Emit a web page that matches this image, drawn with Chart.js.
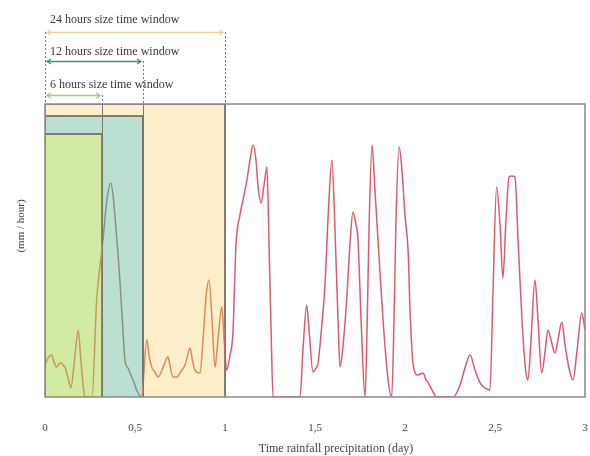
<!DOCTYPE html>
<html>
<head>
<meta charset="utf-8">
<script src="https://cdn.jsdelivr.net/npm/chart.js@4.4.1/dist/chart.umd.min.js"></script>
<style>
  html, body { margin: 0; padding: 0; background: #fff; overflow: hidden; }
</style>
</head>
<body>
<canvas id="rainChart" width="590" height="456"></canvas>
<script>
// ---------------- Data ----------------
const TIME_DAYS = [
  0, 0.017, 0.037, 0.05, 0.065, 0.078, 0.093, 0.103, 0.111, 0.128,
  0.144, 0.161, 0.185, 0.197, 0.213, 0.222, 0.239, 0.261, 0.287, 0.306,
  0.322, 0.344, 0.365, 0.378, 0.389, 0.406, 0.417, 0.433, 0.444, 0.461,
  0.472, 0.494, 0.509, 0.537, 0.565, 0.578, 0.593, 0.611, 0.628, 0.65,
  0.667, 0.683, 0.694, 0.711, 0.733, 0.75, 0.778, 0.806, 0.819, 0.833,
  0.861, 0.878, 0.894, 0.911, 0.928, 0.944, 0.961, 0.982, 0.994, 1.009,
  1.028, 1.044, 1.061, 1.083, 1.1, 1.122, 1.139, 1.156, 1.172, 1.183,
  1.2, 1.217, 1.233, 1.244, 1.256, 1.267, 1.333, 1.417, 1.433, 1.454,
  1.467, 1.489, 1.506, 1.517, 1.533, 1.556, 1.572, 1.594, 1.611, 1.628,
  1.639, 1.656, 1.676, 1.694, 1.711, 1.728, 1.739, 1.756, 1.778, 1.789,
  1.8, 1.817, 1.833, 1.85, 1.878, 1.906, 1.926, 1.939, 1.95, 1.967,
  1.983, 2.0, 2.017, 2.028, 2.044, 2.072, 2.1, 2.117, 2.128, 2.15,
  2.176, 2.222, 2.267, 2.306, 2.333, 2.361, 2.389, 2.417, 2.444, 2.472,
  2.489, 2.509, 2.528, 2.544, 2.561, 2.578, 2.594, 2.611, 2.628, 2.65,
  2.667, 2.683, 2.7, 2.722, 2.739, 2.759, 2.778, 2.794, 2.811, 2.833,
  2.85, 2.871, 2.889, 2.911, 2.933, 2.956, 2.982, 3.0
];

const RAIN_MM_H = [
  10.9, 13.3, 14.3, 11.9, 10.2, 11.3, 11.6, 10.6, 10.2, 6.5,
  3.1, 10.9, 22.9, 14.3, 3.4, 0, 0, 0, 33.1, 45.1,
  53.6, 67.2, 73.0, 68.9, 61.4, 48.5, 38.9, 22.9, 12.6, 9.9,
  8.2, 5.1, 2.4, 0, 19.5, 14.3, 10.2, 8.5, 6.8, 9.2,
  11.9, 13.7, 10.9, 6.8, 6.8, 8.2, 10.9, 16.7, 12.6, 9.2,
  8.2, 19.5, 33.8, 39.9, 26.3, 10.2, 19.5, 30.7, 21.2, 9.2,
  14.3, 21.8, 51.9, 62.1, 67.2, 74.1, 80.9, 86.0, 80.9, 72.4,
  66.2, 72.4, 78.5, 53.6, 22.9, 0, 0, 0, 16.0, 31.4,
  22.9, 8.5, 9.9, 11.6, 21.2, 38.9, 60.4, 80.9, 57.0, 26.3,
  10.2, 17.7, 33.1, 51.9, 63.1, 58.7, 53.6, 26.3, 0, 22.9,
  57.0, 86.0, 70.6, 53.6, 26.3, 5.8, 0, 26.3, 60.4, 85.3,
  77.5, 62.1, 50.2, 29.7, 11.6, 7.5, 8.2, 5.8, 5.1, 2.4,
  0, 0, 0, 4.1, 9.9, 14.3, 9.2, 4.8, 3.1, 2.4,
  36.5, 71.7, 58.7, 40.6, 60.4, 75.1, 75.4, 75.1, 53.6, 26.3,
  10.9, 5.8, 19.5, 39.9, 26.3, 8.2, 15.4, 22.9, 19.5, 15.0,
  19.5, 25.6, 17.7, 9.9, 5.8, 16.0, 28.7, 22.9
];

// time windows: 6 h, 12 h, 24 h (end as drawn in the figure, box height in y units)
const WINDOW_LABELS = ["6 hours size time window", "12 hours size time window", "24 hours size time window"];
const WINDOW_ENDS = [0.317, 0.544, 1.0];
const WINDOW_TOPS = [89.8, 95.9, 100];

const X_TICKS = [0, 0.5, 1, 1.5, 2, 2.5, 3];
const X_TICK_LABELS = ["0", "0,5", "1", "1,5", "2", "2,5", "3"];
const X_TITLE = "Time rainfall precipitation (day)";
const Y_TITLE = "(mm / hour)";

// ---------------- Styles ----------------
const SERIF = "'Liberation Serif', 'DejaVu Serif', serif";
const BOX_FILLS = ["#d3eaa3", "#bbe0d2", "#feeec9"];
const ARROW_COLORS = ["#9fd07a", "#3e8f7b", "#e6d98c"];
const ARROW_OFFSETS = [9, 43, 72];   // px above the plot top
const LABEL_OFFSETS = [19, 52, 84];

function lineColorAt(x) {
  if (x < WINDOW_ENDS[0]) return "#c39a5c";
  if (x < WINDOW_ENDS[1]) return "#8b8f82";
  if (x < WINDOW_ENDS[2]) return "#dc8a5a";
  return "#dd5a6c";
}

function boxData(i) {
  return [
    { x: 0, y: 0 },
    { x: 0, y: WINDOW_TOPS[i] },
    { x: WINDOW_ENDS[i], y: WINDOW_TOPS[i] },
    { x: WINDOW_ENDS[i], y: 0 },
  ];
}

// ---------------- Plugin: frame, window annotations, titles ----------------
const decorations = {
  id: "decorations",
  afterDatasetsDraw(chart) {
    const { ctx, chartArea: a, scales: { x } } = chart;
    ctx.save();

    // guide lines from arrows down through the plot
    ctx.strokeStyle = "#777";
    ctx.lineWidth = 1;
    for (let i = 0; i < WINDOW_ENDS.length; i++) {
      const px = Math.round(x.getPixelForValue(WINDOW_ENDS[i])) + 0.5;
      const y0 = a.top - ARROW_OFFSETS[i];
      ctx.setLineDash([2, 2]);
      ctx.beginPath(); ctx.moveTo(px, y0); ctx.lineTo(px, a.top); ctx.stroke();
      ctx.setLineDash([]);
      ctx.beginPath(); ctx.moveTo(px, a.top); ctx.lineTo(px, a.bottom); ctx.stroke();
    }
    const x0 = Math.round(x.getPixelForValue(0)) + 0.5;
    ctx.setLineDash([2, 2]);
    ctx.beginPath(); ctx.moveTo(x0, a.top - ARROW_OFFSETS[2]); ctx.lineTo(x0, a.top); ctx.stroke();
    ctx.setLineDash([]);

    // plot frame
    ctx.strokeStyle = "#8a8a8a";
    ctx.lineWidth = 1.5;
    ctx.strokeRect(a.left, a.top, a.right - a.left, a.bottom - a.top);

    // arrows + labels
    ctx.font = "12px " + SERIF;
    ctx.textBaseline = "middle";
    ctx.textAlign = "left";
    for (let i = 0; i < WINDOW_ENDS.length; i++) {
      const xs = x.getPixelForValue(0) + 2;
      const xe = x.getPixelForValue(WINDOW_ENDS[i]) - 2;
      const yy = Math.round(a.top - ARROW_OFFSETS[i]) + 0.5;
      ctx.strokeStyle = ARROW_COLORS[i];
      ctx.lineWidth = 1.3;
      ctx.beginPath(); ctx.moveTo(xs, yy); ctx.lineTo(xe, yy); ctx.stroke();
      ctx.beginPath();
      ctx.moveTo(xs + 4, yy - 2.5); ctx.lineTo(xs, yy); ctx.lineTo(xs + 4, yy + 2.5);
      ctx.moveTo(xe - 4, yy - 2.5); ctx.lineTo(xe, yy); ctx.lineTo(xe - 4, yy + 2.5);
      ctx.stroke();
      ctx.fillStyle = "#3a3a3a";
      ctx.fillText(WINDOW_LABELS[i], x.getPixelForValue(0) + 5, a.top - LABEL_OFFSETS[i]);
    }

    // axis titles
    ctx.fillStyle = "#444";
    ctx.textAlign = "center";
    ctx.fillText(X_TITLE, 336, 449);
    ctx.save();
    ctx.translate(21, 226);
    ctx.rotate(-Math.PI / 2);
    ctx.font = "11px " + SERIF;
    ctx.fillText(Y_TITLE, 0, 0);
    ctx.restore();

    ctx.restore();
  }
};

// ---------------- Chart ----------------
const rainPoints = TIME_DAYS.map((t, i) => ({ x: t, y: RAIN_MM_H[i] }));

const datasets = [
  {
    label: "rain",
    data: rainPoints,
    borderColor: "#dd5a6c",
    borderWidth: 1.5,
    pointRadius: 0,
    fill: false,
    cubicInterpolationMode: "monotone",
    segment: { borderColor: (c) => lineColorAt((c.p0.parsed.x + c.p1.parsed.x) / 2) },
  },
];
for (let i = 0; i < WINDOW_ENDS.length; i++) {
  datasets.push({
    label: WINDOW_LABELS[i],
    data: boxData(i),
    borderColor: "#5c5c5c",
    borderWidth: 1.5,
    backgroundColor: BOX_FILLS[i],
    fill: "origin",
    pointRadius: 0,
    tension: 0,
  });
}

new Chart(document.getElementById("rainChart"), {
  type: "line",
  data: { datasets },
  options: {
    responsive: false,
    animation: false,
    layout: { autoPadding: false, padding: { left: 45, right: 5, top: 104, bottom: 0 } },
    plugins: { legend: { display: false }, tooltip: { enabled: false } },
    scales: {
      x: {
        type: "linear",
        min: 0,
        max: 3,
        afterFit: (s) => { s.height = 59; s.paddingLeft = 0; s.paddingRight = 0; },
        afterBuildTicks: (s) => { s.ticks = X_TICKS.map(v => ({ value: v })); },
        grid: { display: false, drawTicks: false },
        border: { display: false },
        ticks: {
          padding: 25,
          color: "#444",
          font: { family: SERIF, size: 11 },
          maxRotation: 0,
          autoSkip: false,
          callback: (v) => X_TICK_LABELS[X_TICKS.indexOf(v)] ?? "",
        },
      },
      y: {
        display: false,
        min: 0,
        max: 100,
      },
    },
  },
  plugins: [decorations],
});
</script>
</body>
</html>
